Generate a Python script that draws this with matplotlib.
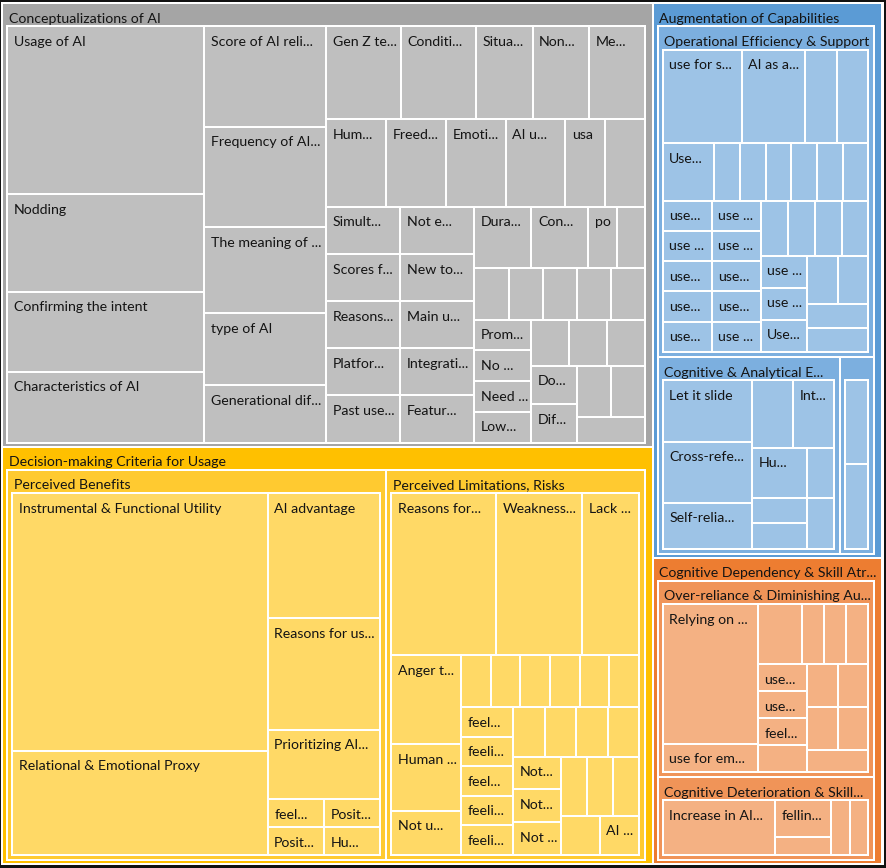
import matplotlib
matplotlib.use("Agg")
import matplotlib.pyplot as plt
from matplotlib.patches import Rectangle

# ---------------- data (counts per code) ----------------
group_names = ["Conceptualizations of AI", "Decision-making Criteria for Usage",
               "Augmentation of Capabilities", "Cognitive Dependency & Skill Atr..."]

concept_labels = ["Usage of AI", "Nodding", "Confirming the intent", "Characteristics of AI",
                  "Score of AI reli...", "Frequency of AI...", "The meaning of ...", "type of AI",
                  "Generational dif...", "Gen Z te...", "Conditi...", "Situa...", "Non...", "Me...",
                  "Hum...", "Freed...", "Emoti...", "AI u...", "usa", "",
                  "Simult...", "Scores f...", "Reasons...", "Platfor...", "Past use...",
                  "Not e...", "New to...", "Main u...", "Integrati...", "Featur...",
                  "Dura...", "Con...", "po", "",
                  "", "", "", "", "",
                  "Prom...", "No ...", "Need ...", "Low...",
                  "", "", "",
                  "Do...", "Dif...",
                  "", "",
                  ""]
concept_values = [19, 11, 9, 8,
                  7, 7, 6, 5,
                  4, 4, 4, 3, 3, 3,
                  3, 3, 3, 3, 2, 2,
                  2, 2, 2, 2, 2,
                  2, 2, 2, 2, 2,
                  2, 2, 1, 1,
                  1, 1, 1, 1, 1,
                  1, 1, 1, 1,
                  1, 1, 1,
                  1, 1,
                  1, 1,
                  1]

decision_sub_names = ["Perceived Benefits", "Perceived Limitations, Risks"]
benefits_labels = ["Instrumental & Functional Utility", "Relational & Emotional Proxy",
                   "AI advantage", "Reasons for us...", "Prioritizing AI...",
                   "feel...", "Posit...", "Posit...", "Hu..."]
benefits_values = [42, 17, 9, 8, 5, 1, 1, 1, 1]
limits_labels = ["Reasons for...", "Weakness...", "Lack ...", "Anger t...", "Human ...", "Not u...",
                 "", "", "", "", "", "",
                 "feel...", "feeli...", "feel...", "feeli...", "feeli...",
                 "", "", "", "",
                 "Not...", "Not...", "Not ...",
                 "", "", "",
                 "", "AI ..."]
limits_values = [11, 9, 6, 4, 3, 2] + [1] * 23

augment_sub_names = ["Operational Efficiency & Support", "Cognitive & Analytical E...", ""]
operational_labels = ["use for s...", "AI as a...", "", "",
                      "Use...", "", "", "", "", "", "",
                      "use...", "use ...", "use...", "use...", "use...",
                      "use ...", "use ...", "use...", "use...", "use ...",
                      "", "", "", "",
                      "use ...", "use ...", "Use...",
                      "", "",
                      "", ""]
operational_values = [5, 4, 2, 2, 2] + [1] * 27
analytical_labels = ["Let it slide", "Cross-refe...", "Self-relia...", "", "Int...", "Hu...",
                     "", "", "", ""]
analytical_values = [4, 4, 3, 2, 2, 2, 1, 1, 1, 1]
augment_other_labels = ["", ""]
augment_other_values = [2, 2]

cognitive_sub_names = ["Over-reliance & Diminishing Au...", "Cognitive Deterioration & Skill..."]
overreliance_labels = ["Relying on ...", "use for em...", "", "", "", "",
                       "use...", "use...", "feel...", "",
                       "", "", "", "", ""]
overreliance_values = [10, 2, 2, 1, 1, 1, 1, 1, 1, 1, 1, 1, 1, 1, 1]
deterioration_labels = ["Increase in AI...", "fellin...", "", "", ""]
deterioration_values = [6, 2, 1, 1, 1]

# colours per top-level group: (banner, sub-banner, leaf)
palette = [("#a5a5a5", "#b1b1b1", "#bfbfbf"),
           ("#ffc000", "#ffca30", "#ffd966"),
           ("#5b9bd5", "#7cafdf", "#9dc3e6"),
           ("#ed7d31", "#f09458", "#f4b183")]


# ---------------- tree ----------------
def leaves(labels, values):
    return [{"name": l, "value": v, "children": None} for l, v in zip(labels, values)]


def group(name, children):
    children = sorted(children, key=lambda c: -c["value"])
    return {"name": name, "value": sum(c["value"] for c in children), "children": children}


tree = group("root", [
    group(group_names[0], leaves(concept_labels, concept_values)),
    group(group_names[1], [group(decision_sub_names[0], leaves(benefits_labels, benefits_values)),
                           group(decision_sub_names[1], leaves(limits_labels, limits_values))]),
    group(group_names[2], [group(augment_sub_names[0], leaves(operational_labels, operational_values)),
                           group(augment_sub_names[1], leaves(analytical_labels, analytical_values)),
                           group(augment_sub_names[2], leaves(augment_other_labels, augment_other_values))]),
    group(group_names[3], [group(cognitive_sub_names[0], leaves(overreliance_labels, overreliance_values)),
                           group(cognitive_sub_names[1], leaves(deterioration_labels, deterioration_values))]),
])

PHI = (1 + 5 ** 0.5) / 2


def squarify(values, x0, y0, x1, y1, ratio=PHI):
    n = len(values)
    rects = [None] * n
    value = float(sum(values))
    i0 = i1 = 0
    while i0 < n:
        dx, dy = x1 - x0, y1 - y0
        s = values[i1]
        i1 += 1
        mn = mx = s
        alpha = max(dy / dx, dx / dy) / (value * ratio)
        beta = s * s * alpha
        min_ratio = max(mx / beta, beta / mn)
        while i1 < n:
            v = values[i1]
            s2 = s + v
            mn2, mx2 = min(mn, v), max(mx, v)
            beta = s2 * s2 * alpha
            new_ratio = max(mx2 / beta, beta / mn2)
            if new_ratio > min_ratio:
                break
            s, mn, mx, min_ratio = s2, mn2, mx2, new_ratio
            i1 += 1
        if dx < dy:
            yb = y0 + dy * s / value if i1 < n else y1
            k = (x1 - x0) / s
            xx = x0
            for i in range(i0, i1):
                rects[i] = (xx, y0, xx + values[i] * k, yb)
                xx += values[i] * k
            y0 = yb
        else:
            xb = x0 + dx * s / value if i1 < n else x1
            k = (y1 - y0) / s
            yy = y0
            for i in range(i0, i1):
                rects[i] = (x0, yy, xb, yy + values[i] * k)
                yy += values[i] * k
            x0 = xb
        value -= s
        i0 = i1
    return rects


PADS = {1: (5, 7.5, 23, 4),      # left, right, top, bottom for top-level groups
        2: (5, 6, 23.5, 5)}      # for second-level groups


def layout(node, rect, depth):
    node["rect"] = rect
    node["depth"] = depth
    if node["children"]:
        x0, y0, x1, y1 = rect
        if depth > 0:
            l, r, t, b = PADS[depth]
            x0, y0, x1, y1 = x0 + l, y0 + t, x1 - r, y1 - b
        rects = squarify([c["value"] for c in node["children"]], x0, y0, x1, y1)
        for c, rc in zip(node["children"], rects):
            layout(c, rc, depth + 1)


layout(tree, (2, 3, 882, 864), 0)

# ---------------- drawing ----------------
W, H = 886, 868
fig = plt.figure(figsize=(W / 100, H / 100), dpi=100)
ax = fig.add_axes([0, 0, 1, 1])
ax.set_xlim(0, W)
ax.set_ylim(H, 0)
ax.axis("off")

FONT = ["Lato", "DejaVu Sans"]
TXT = "#141414"


def draw(node, gi):
    depth = node["depth"]
    x0, y0, x1, y1 = node["rect"]
    if depth > 0:
        if node["children"] is None:
            col = palette[gi][2]
        else:
            col = palette[gi][0] if depth == 1 else palette[gi][1]
        p = Rectangle((x0, y0), x1 - x0, y1 - y0, facecolor=col, edgecolor="white",
                      linewidth=1.44, zorder=depth)
        ax.add_patch(p)
        if node["name"]:
            off = 19.8 if node["children"] else 19.5
            t = ax.text(x0 + 6.6, y0 + off, node["name"], fontsize=10.2, family=FONT,
                        color=TXT, va="baseline", ha="left", zorder=10)
            t.set_clip_path(p)
    if node["children"]:
        for i, c in enumerate(node["children"]):
            draw(c, i if depth == 0 else gi)


draw(tree, 0)

# outer dark frame of the picture
for (fx, fy, fw, fh) in [(0, 0, W, 2), (0, H - 3.5, W, 3.5), (0, 0, 1.2, H), (W - 2, 0, 2, H)]:
    ax.add_patch(Rectangle((fx, fy), fw, fh, facecolor="#111111", edgecolor="none", zorder=20))

fig.savefig("out.png", dpi=100, facecolor="white")
